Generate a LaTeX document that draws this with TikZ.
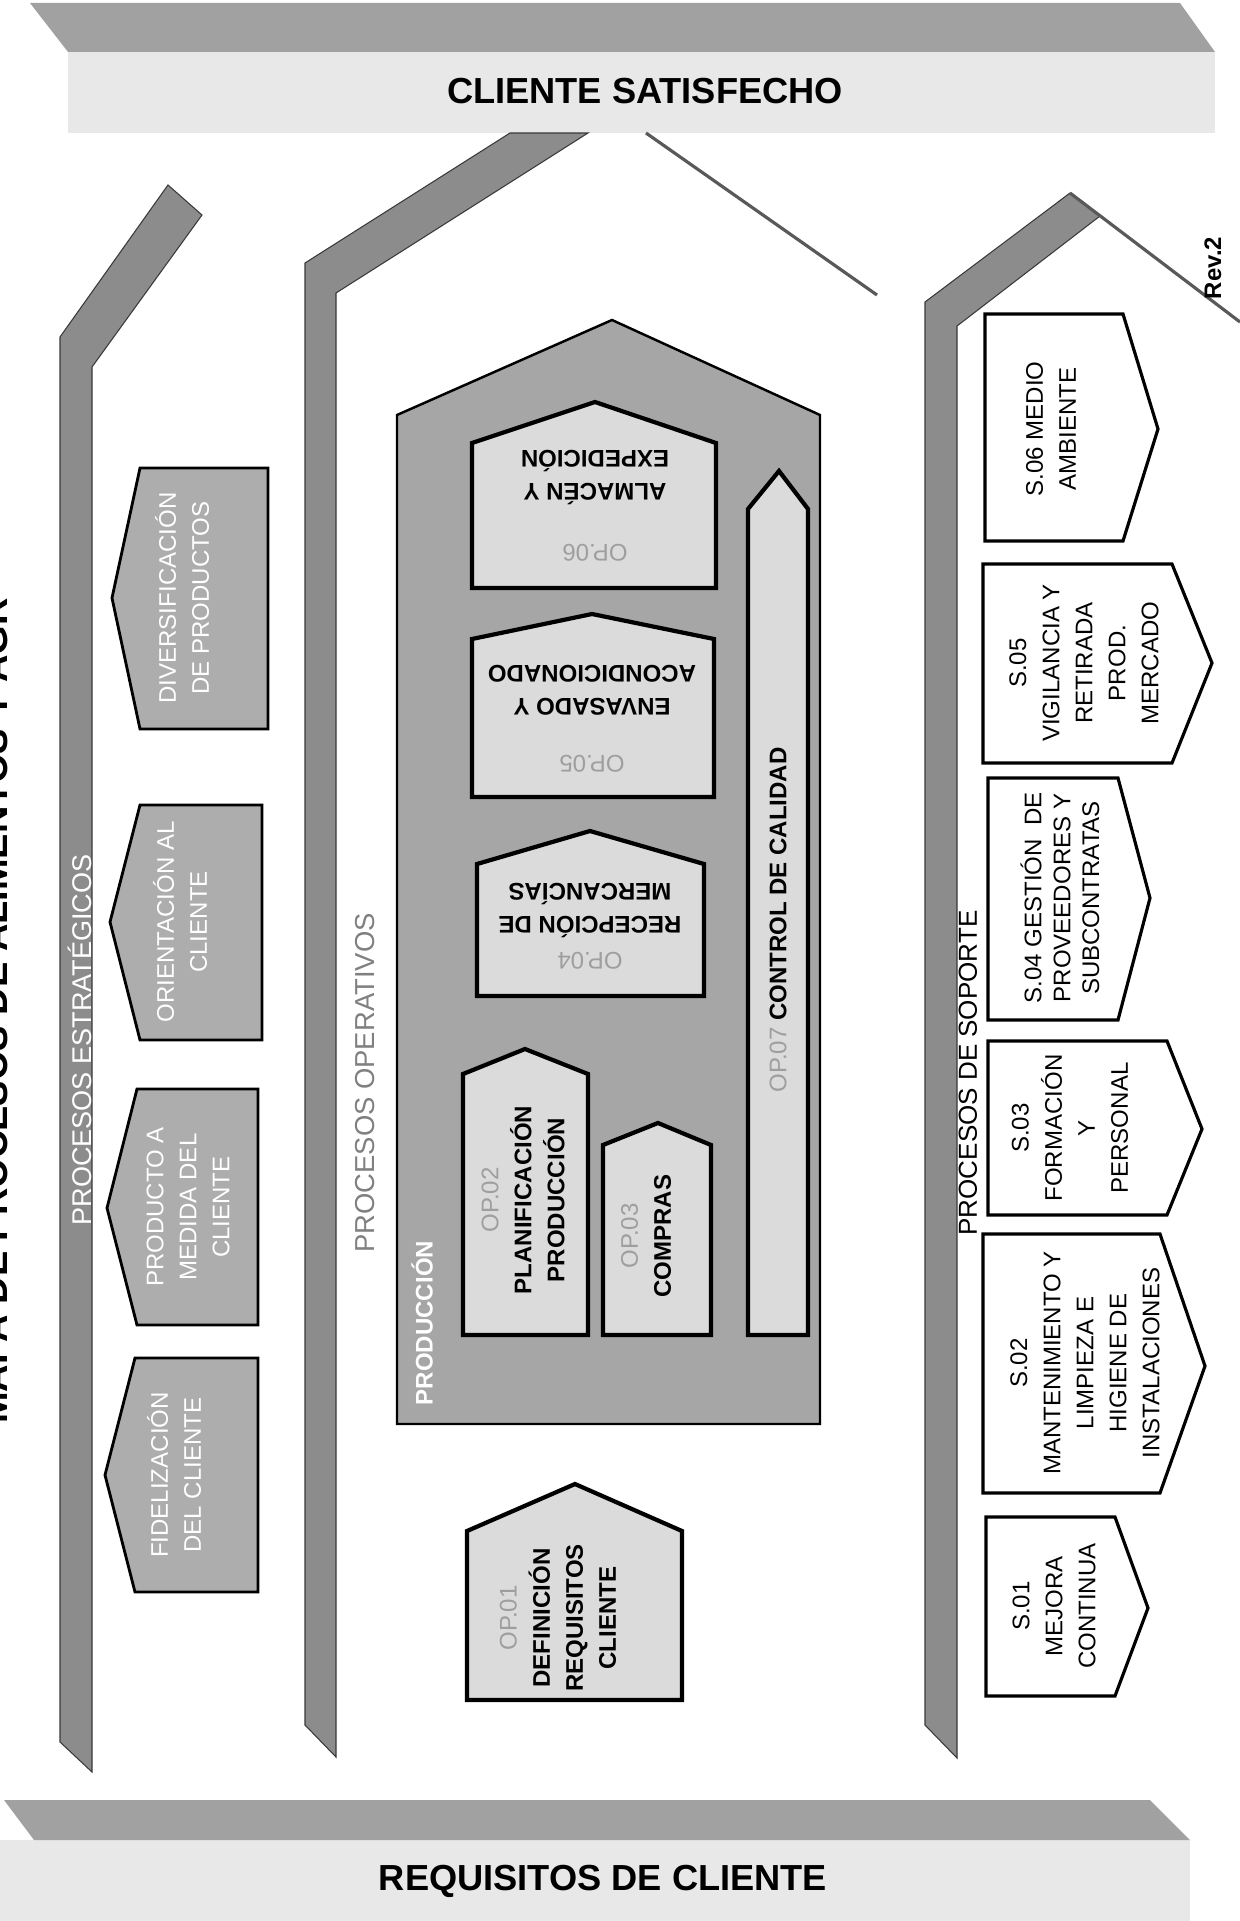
\documentclass[tikz,border=0pt]{standalone}
\usepackage{fontspec}
\setmainfont{Liberation Sans}

\definecolor{bandgray}{gray}{0.55}
\definecolor{topgray}{gray}{0.63}
\definecolor{lightband}{gray}{0.91}
\definecolor{stratgray}{gray}{0.68}
\definecolor{prodgray}{gray}{0.65}
\definecolor{opgray}{gray}{0.86}
\definecolor{codegray}{gray}{0.62}

\begin{document}
\begin{tikzpicture}[x=0.01cm, y=-0.01cm,
    band/.style={fill=bandgray, draw=gray!45!black, line width=0.3pt},
    roofline/.style={draw=gray!70!black, line width=0.9pt},
    stratbox/.style={fill=stratgray, draw=black, line width=0.8pt},
    prodbox/.style={fill=prodgray, draw=black, line width=0.7pt},
    opbox/.style={fill=opgray, draw=black, line width=1.2pt},
    supbox/.style={fill=white, draw=black, line width=0.9pt},
    lbl/.style={inner sep=0pt, align=center, font=\fontsize{6.83}{9.39}\selectfont},
    blbl/.style={lbl, font=\fontsize{6.83}{9.39}\selectfont\bfseries},
    code/.style={lbl, text=codegray},
    head/.style={inner sep=0pt, font=\fontsize{10.3}{12}\selectfont\bfseries}]
    \useasboundingbox (0,0) rectangle (1240,1921);

    % top and bottom bands
    \fill[topgray] (30,3) -- (1180,3) -- (1215,52) -- (68,52) -- cycle;
    \fill[lightband] (68,52) rectangle (1215,133);
    \fill[lightband] (0,1840) rectangle (1190,1921);
    \fill[topgray] (4,1800) -- (1150,1800) -- (1190,1840) -- (34,1840) -- cycle;
    \node[head] (satisf) at (645,91) {CLIENTE SATISFECHO};
    \node[head] (requis) at (603,1881) {REQUISITOS DE CLIENTE};
    \node[rotate=90, anchor=base, inner sep=0pt, font=\fontsize{10.8}{13}\selectfont\bfseries] (titulo) at (8,1011) {MAPA DE PROCESOS DE ALIMENTOS Y AGR};

    % the three big arrows
    \draw[band] (60,1742) -- (60,337) -- (168,185) -- (202,215) -- (92,367) -- (92,1772) -- cycle;    % estrategicos
    \draw[band] (305,1725) -- (305,263) -- (510,133) -- (588,133) -- (336,293) -- (336,1757) -- cycle; % operativos
    \draw[roofline] (646,133) -- (877,295);
    \draw[band] (925,1725) -- (925,302) -- (1070,193) -- (1100,216) -- (957,326) -- (957,1758) -- cycle; % soporte
    \draw[roofline] (1070,193) -- (1240,322);

    \node[lbl, rotate=90, text=white, font=\fontsize{7.7}{9}\selectfont] (estrat) at (80,1040) {PROCESOS ESTRATÉGICOS};
    \node[lbl, rotate=90, text=gray, font=\fontsize{7.8}{9}\selectfont] (operat) at (365,1083) {PROCESOS OPERATIVOS};
    \node[lbl, rotate=90, font=\fontsize{7.4}{9}\selectfont] (soporte) at (968,1073) {PROCESOS DE SOPORTE};
    \node[lbl, rotate=90, font=\fontsize{6.8}{9}\selectfont\bfseries] (rev) at (1213,268) {Rev.2};

    % estrategicos
    \draw[stratbox] (140,468) -- (268,468) -- (268,729) -- (140,729) -- (112,598) -- cycle;
    \draw[stratbox] (140,805) -- (262,805) -- (262,1040) -- (140,1040) -- (110,922) -- cycle;
    \draw[stratbox] (137,1089) -- (258,1089) -- (258,1325) -- (137,1325) -- (107,1208) -- cycle;
    \draw[stratbox] (135,1358) -- (258,1358) -- (258,1592) -- (135,1592) -- (105,1475) -- cycle;
    \node[lbl, rotate=90, text=white] (diversif) at (182,598) {DIVERSIFICACIÓN\\DE PRODUCTOS};
    \node[lbl, rotate=90, text=white] (orient) at (180,922) {ORIENTACIÓN AL\\CLIENTE};
    \node[lbl, rotate=90, text=white] (medida) at (188,1207) {PRODUCTO A\\MEDIDA DEL\\CLIENTE};
    \node[lbl, rotate=90, text=white] (fideliz) at (174,1475) {FIDELIZACIÓN\\DEL CLIENTE};

    % operativos
    \draw[prodbox] (397,1424) -- (397,415) -- (612,320) -- (820,415) -- (820,1424) -- cycle;   % produccion
    \node[blbl, rotate=90, text=white] (prod) at (422,1323) {PRODUCCIÓN};
    \draw[opbox] (472,588) -- (472,443) -- (595,402) -- (716,443) -- (716,588) -- cycle;       % op.06
    \draw[opbox] (472,797) -- (472,639) -- (592,614) -- (714,639) -- (714,797) -- cycle;       % op.05
    \draw[opbox] (477,996) -- (477,864) -- (590,831) -- (704,864) -- (704,996) -- cycle;       % op.04
    \draw[opbox] (463,1335) -- (463,1074) -- (525,1049) -- (588,1074) -- (588,1335) -- cycle;  % op.02
    \draw[opbox] (603,1335) -- (603,1145) -- (658,1123) -- (711,1145) -- (711,1335) -- cycle;  % op.03
    \draw[opbox] (748,1335) -- (748,509) -- (779,471) -- (808,509) -- (808,1335) -- cycle;     % op.07
    \draw[opbox] (467,1700) -- (467,1531) -- (575,1484) -- (682,1531) -- (682,1700) -- cycle;  % op.01

    \node[blbl, rotate=180] (op06) at (595,478) {ALMACÉN Y\\EXPEDICIÓN};
    \node[code, rotate=180] (op06c) at (595,553) {OP.06};
    \node[blbl, rotate=180] (op05) at (592,690) {ENVASADO Y\\ACONDICIONADO};
    \node[code, rotate=180] (op05c) at (592,764) {OP.05};
    \node[blbl, rotate=180] (op04) at (590,911) {RECEPCIÓN DE\\MERCANCÍAS};
    \node[code, rotate=180] (op04c) at (590,961) {OP.04};
    \node[blbl, rotate=90] (op02) at (523,1200) {\textcolor{codegray}{\mdseries OP.02}\\PLANIFICACIÓN\\PRODUCCIÓN};
    \node[blbl, rotate=90] (op03) at (646,1236) {\textcolor{codegray}{\mdseries OP.03}\\COMPRAS};
    \node[blbl, rotate=90] (op07) at (778,920) {\textcolor{codegray}{\mdseries OP.07} CONTROL DE CALIDAD};
    \node[blbl, rotate=90] (op01) at (558,1618) {\textcolor{codegray}{\mdseries OP.01}\\DEFINICIÓN\\REQUISITOS\\CLIENTE};

    % soporte
    \draw[supbox] (985,314) -- (1123,314) -- (1158,429) -- (1123,541) -- (985,541) -- cycle;
    \draw[supbox] (983,564) -- (1172,564) -- (1212,663) -- (1172,763) -- (983,763) -- cycle;
    \draw[supbox] (988,778) -- (1118,778) -- (1150,898) -- (1118,1020) -- (988,1020) -- cycle;
    \draw[supbox] (988,1041) -- (1167,1041) -- (1202,1129) -- (1167,1215) -- (988,1215) -- cycle;
    \draw[supbox] (983,1234) -- (1160,1234) -- (1205,1366) -- (1160,1493) -- (983,1493) -- cycle;
    \draw[supbox] (986,1517) -- (1115,1517) -- (1148,1608) -- (1115,1696) -- (986,1696) -- cycle;
    \node[lbl, rotate=90] (s06) at (1051,429) {S.06 MEDIO\\AMBIENTE};
    \node[lbl, rotate=90] (s05) at (1084,663) {S.05\\VIGILANCIA Y\\RETIRADA\\PROD.\\MERCADO};
    \node[lbl, rotate=90, font=\fontsize{6.83}{8.2}\selectfont] (s04) at (1060,898) {S.04 GESTIÓN\ \ DE\\PROVEEDORES Y\\SUBCONTRATAS};
    \node[lbl, rotate=90] (s03) at (1070,1128) {S.03\\FORMACIÓN\\Y\\PERSONAL};
    \node[lbl, rotate=90] (s02) at (1085,1363) {S.02\\MANTENIMIENTO Y\\LIMPIEZA E\\HIGIENE DE\\INSTALACIONES};
    \node[lbl, rotate=90] (s01) at (1054,1606) {S.01\\MEJORA\\CONTINUA};
\end{tikzpicture}
\end{document}
